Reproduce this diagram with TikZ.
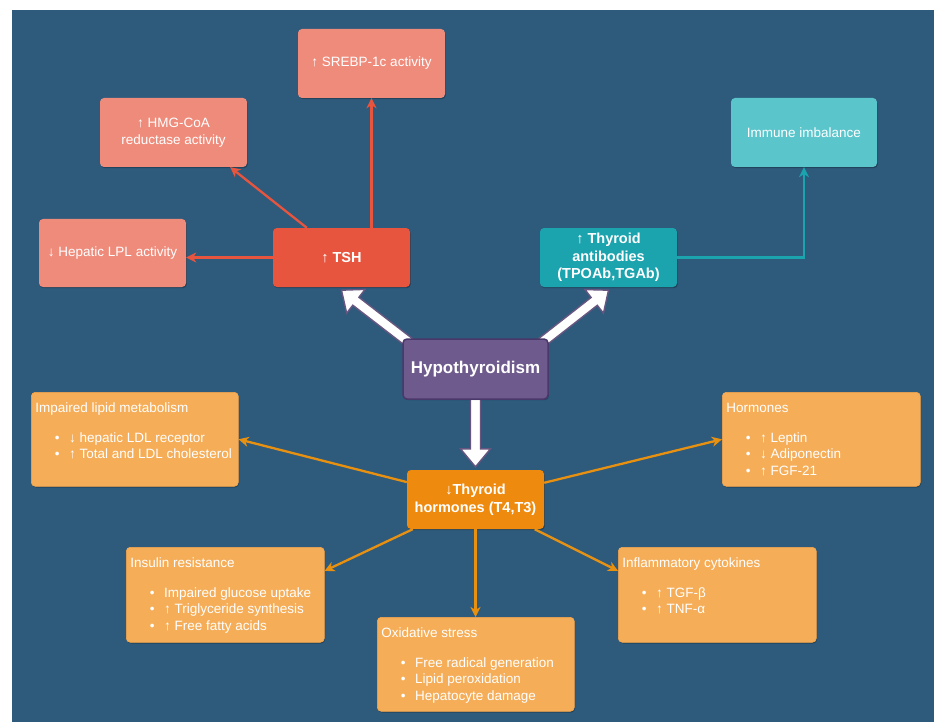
\documentclass[tikz,border=0pt]{standalone}
\usepackage{fontspec}
\setmainfont{Liberation Sans}
\usetikzlibrary{arrows.meta,calc,shadows}

\definecolor{bgblue}{HTML}{2E5A7C}
\definecolor{salmon}{HTML}{EF8B7B}
\definecolor{tshred}{HTML}{E8553F}
\definecolor{tealdark}{HTML}{1BA3AE}
\definecolor{teallight}{HTML}{5BC5CC}
\definecolor{hypopurple}{HTML}{6E5A8C}
\definecolor{hypoedge}{HTML}{4B386A}
\definecolor{thorange}{HTML}{EE8A0E}
\definecolor{paleorange}{HTML}{F5AD58}
\definecolor{linkorange}{HTML}{E8900F}

\pgfdeclarelayer{bg}
\pgfdeclarelayer{links}
\pgfsetlayers{bg,links,main}

\newcommand{\bul}[1]{\par\hspace*{19.5pt}\textbullet\hspace{9.5pt}\mbox{#1}}
\newcommand{\fatarrow}[2]{%
  \draw[fatarrow] let \p1=(#1), \p2=(#2), \n1={atan2(\y2-\y1,\x2-\x1)},
    \n2={veclen(\x2-\x1,\y2-\y1)-18pt} in
    ($(\p1)+(\n1+90:5pt)$) -- ($(\p1)+(\n1:\n2)+(\n1+90:5pt)$)
    -- ($(\p1)+(\n1:\n2)+(\n1+90:15pt)$) -- (\p2)
    -- ($(\p1)+(\n1:\n2)+(\n1-90:15pt)$) -- ($(\p1)+(\n1:\n2)+(\n1-90:5pt)$)
    -- ($(\p1)+(\n1-90:5pt)$) -- cycle;}

\tikzset{
  card/.style={rounded corners=4pt, text=white, align=center, inner sep=4pt,
    font=\fontsize{13.5}{16.5}\selectfont,
    drop shadow={shadow xshift=0.8pt, shadow yshift=-1.2pt, opacity=0.25, fill=black}},
  boldcard/.style={card, font=\bfseries\fontsize{14.5}{17.5}\selectfont},
  salmonbox/.style={card, fill=salmon, minimum width=147, minimum height=69},
  tealbox/.style={card, fill=teallight, minimum width=146, minimum height=69},
  redbox/.style={boldcard, fill=tshred, minimum width=137, minimum height=59},
  abbox/.style={boldcard, fill=tealdark, minimum width=137, minimum height=59},
  hormbox/.style={boldcard, fill=thorange, minimum width=137, minimum height=59},
  hypobox/.style={card, fill=hypopurple, draw=hypoedge, line width=1.5pt,
    font=\bfseries\fontsize{17}{20}\selectfont, minimum width=145, minimum height=60},
  listbox/.style={card, fill=paleorange, draw=paleorange!85!orange, line width=0.6pt,
    align=left, anchor=north west},
  link/.style={line width=2.3pt, -{Stealth[length=10pt,width=10pt,inset=3pt]}},
  redlink/.style={link, draw=tshred, color=tshred},
  teallink/.style={link, draw=tealdark, color=tealdark},
  orangelink/.style={link, draw=linkorange, color=linkorange},
  fatarrow/.style={fill=white, draw=hypoedge!85!white, line width=1.4pt, line join=miter}
}

\begin{document}
\begin{tikzpicture}[x=1pt,y=-1pt]
\begin{pgfonlayer}{bg}
  \fill[white] (0,0) rectangle (934,722);
  \fill[bgblue] (12,10) rectangle (934,722);
\end{pgfonlayer}

\node[salmonbox] (srebp) at (371.5,63.5) {↑ SREBP-1c activity};
\node[salmonbox] (hmg) at (173.5,132.5) {↑ HMG-CoA\\reductase activity};
\node[salmonbox, minimum height=68] (lpl) at (112.5,253) {↓ Hepatic LPL activity};
\node[redbox] (tsh) at (341.5,257.5) {↑ TSH};
\node[tealbox] (imm) at (804,132.5) {Immune imbalance};
\node[abbox] (ab) at (608.5,257.5) {↑ Thyroid\\antibodies\\(TPOAb,TGAb)};
\node[hypobox] (hypo) at (475.5,369) {Hypothyroidism};
\node[hormbox] (th) at (475.5,499.5) {↓Thyroid\\hormones (T4,T3)};

\node[listbox] (lipid) at (31,392) {\parbox[c][86pt][t]{199pt}{\rule{0pt}{16pt}Impaired lipid metabolism\par\vspace{13.5pt}
  \bul{↓ hepatic LDL receptor}\bul{↑ Total and LDL cholesterol}}};
\node[listbox] (ins) at (126,547) {\parbox[c][87pt][t]{190pt}{\rule{0pt}{16pt}Insulin resistance\par\vspace{13.5pt}
  \bul{Impaired glucose uptake}\bul{↑ Triglyceride synthesis}\bul{↑ Free fatty acids}}};
\node[listbox] (ox) at (377,617) {\parbox[c][86pt][t]{189pt}{\rule{0pt}{16pt}Oxidative stress\par\vspace{13.5pt}
  \bul{Free radical generation}\bul{Lipid peroxidation}\bul{Hepatocyte damage}}};
\node[listbox] (horm) at (722,392) {\parbox[c][86pt][t]{190pt}{\rule{0pt}{16pt}Hormones\par\vspace{13.5pt}
  \bul{↑ Leptin}\bul{↓ Adiponectin}\bul{↑ FGF-21}}};
\node[listbox] (infl) at (618,547) {\parbox[c][87pt][t]{190pt}{\rule{0pt}{16pt}Inflammatory cytokines\par\vspace{13.5pt}
  \bul{↑ TGF-β}\bul{↑ TNF-α}}};

\begin{pgfonlayer}{links}
  \fatarrow{$(hypo.north west)+(8,5)$}{$(tsh.south)+(0,3)$}
  \fatarrow{$(hypo.north east)+(-8,5)$}{$(ab.south)+(0,3)$}
  \fatarrow{$(hypo.south)+(0,-3)$}{$(th.north)+(0,-3)$}
\end{pgfonlayer}

\draw[redlink] (tsh.west) -- (tsh.west -| lpl.east);
\draw[redlink] ($(tsh.north west)+(34,0)$) -- ($(hmg.south east)+(-17,0)$);
\draw[redlink] (tsh.north -| srebp.south) -- (srebp.south);
\draw[teallink] (ab.east) -| (imm.south);

\draw[orangelink] (th) -- (lipid.east);
\draw[orangelink] (th) -- ($(ins.north east)!0.25!(ins.south east)$);
\draw[orangelink] (th.south) -- (th.south |- ox.north);
\draw[orangelink] (th) -- (horm.west);
\draw[orangelink] (th) -- ($(infl.north west)!0.25!(infl.south west)$);
\end{tikzpicture}
\end{document}
